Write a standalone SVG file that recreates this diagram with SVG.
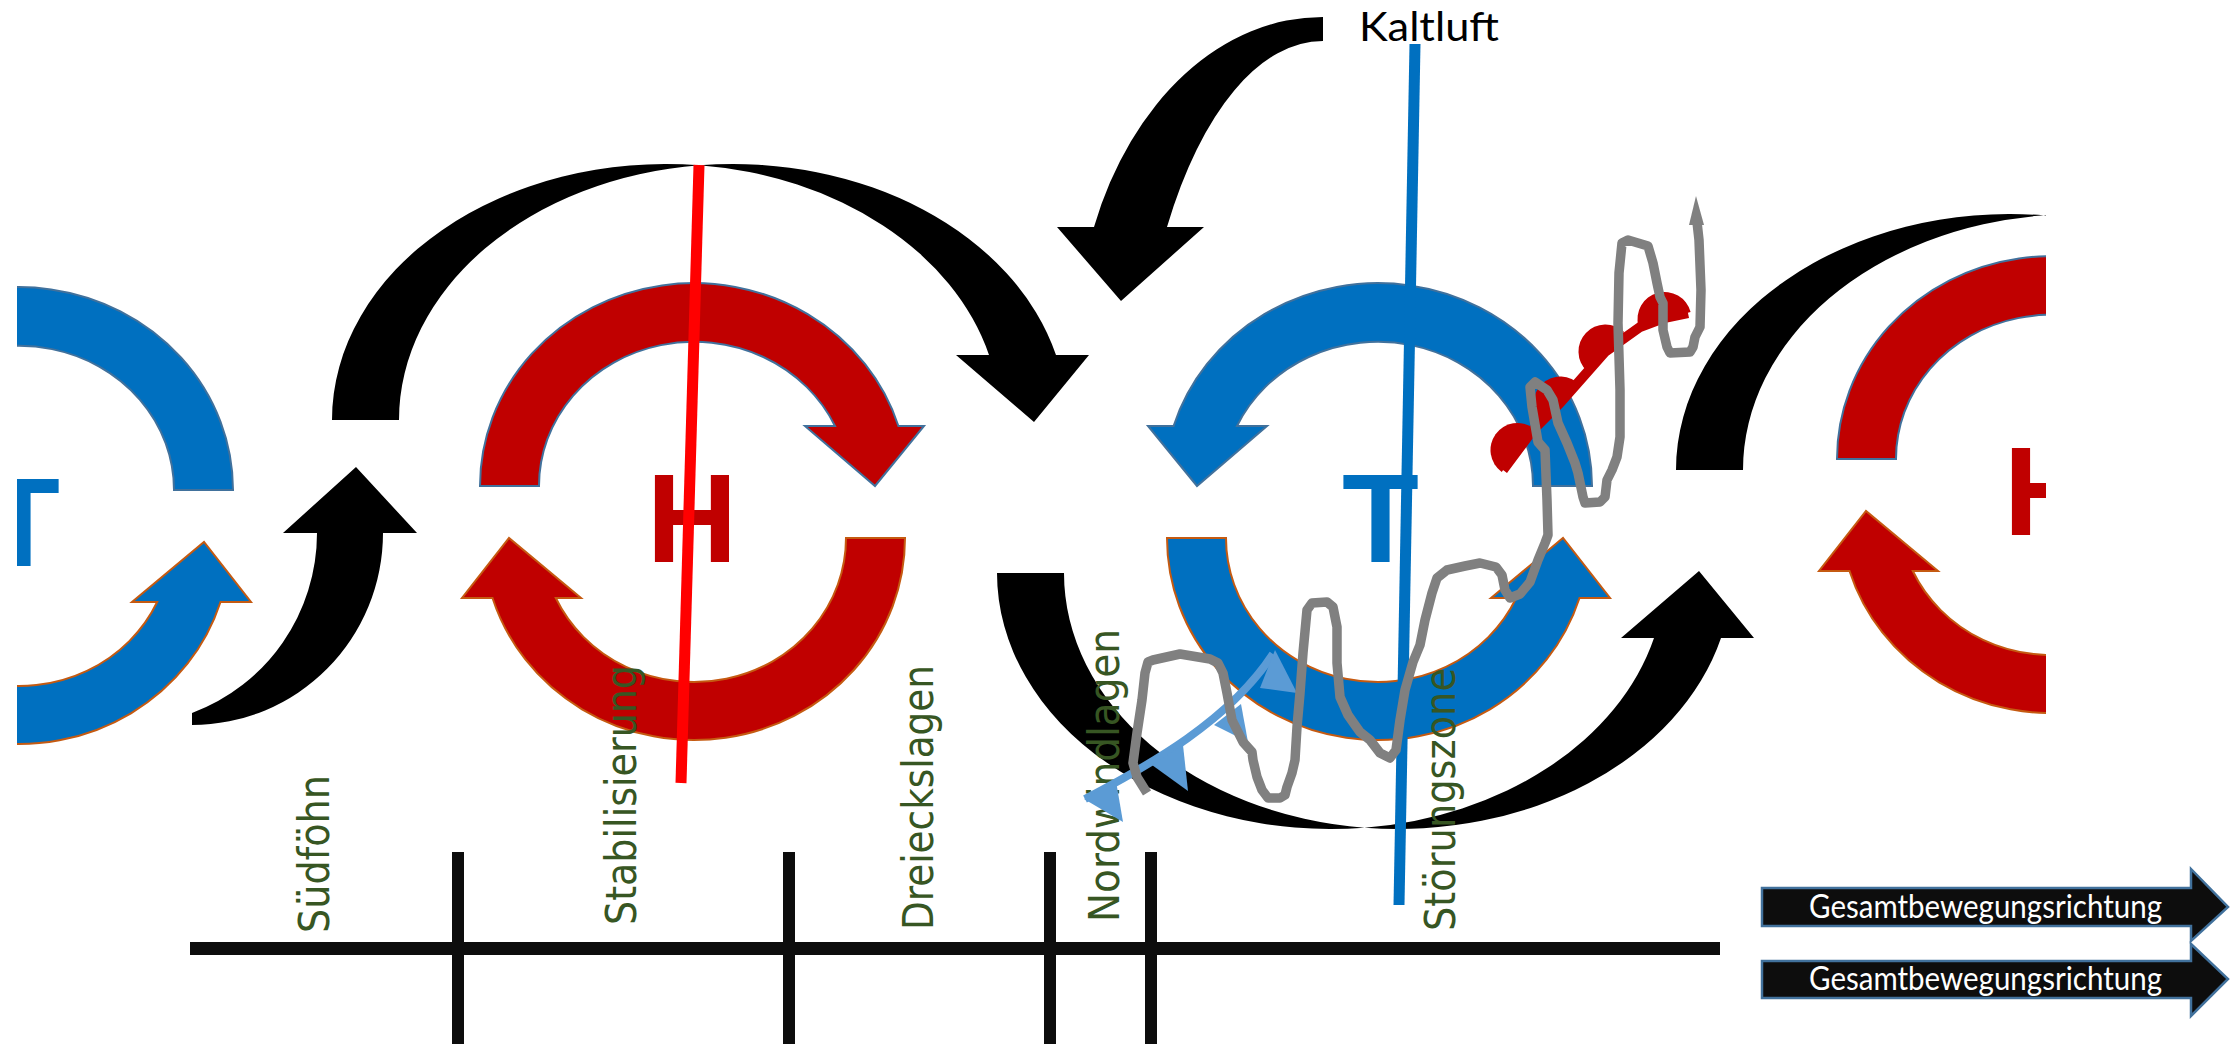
<svg xmlns="http://www.w3.org/2000/svg" xmlns:xlink="http://www.w3.org/1999/xlink" width="2238" height="1044" viewBox="0 0 2238 1044">
  <style>
    .flow { fill: #000000; }
    .ringTopRed { fill: #c00000; stroke: #41719c; stroke-width: 2; }
    .ringBotRed { fill: #c00000; stroke: #c55a11; stroke-width: 2; }
    .ringTopBlue { fill: #0070c0; stroke: #41719c; stroke-width: 2; }
    .ringBotBlue { fill: #0070c0; stroke: #c55a11; stroke-width: 2; }
    .letter { font-family: "Liberation Sans", Arial, sans-serif; font-weight: bold; font-size: 126px; text-anchor: middle; }
    .lbl { font-family: "DejaVu Sans Condensed", "DejaVu Sans", sans-serif; font-size: 43px; fill: #375623; }
    .axis { stroke: #0d0d0d; fill: none; }
    .dir { fill: #0d0d0d; stroke: #41719c; stroke-width: 2.5; }
    .dirText { font-family: Lato, "Liberation Sans", sans-serif; font-size: 32px; fill: #ffffff; }
    .track { fill: none; stroke: #808080; stroke-width: 9.5; stroke-linejoin: round; }
  </style>
  <defs>
    <!-- curved band arrow: union of two offset half-ellipse bands with a down-pointing head -->
    <path id="bigArc" d="M 332 420 A 334 256 0 0 1 699.5 165.3 A 334 256 0 0 1 1056 355 L 1089 355 L 1034 422 L 956 355 L 989 355 A 334 256 0 0 0 699.5 165.3 A 334 256 0 0 0 399 420 Z"/>
    <!-- upper half of a pressure-system ring, head on the right -->
    <path id="ringTop" d="M 480 486 A 214 203 0 0 1 898.4 426 L 924 426 L 875 486 L 805 426 L 835 426 A 155 144 0 0 0 539 486 Z"/>
    <!-- lower half of a pressure-system ring, head on the left -->
    <path id="ringBottom" d="M 905 538 A 211 202 0 0 1 492.5 598 L 462 598 L 509 538 L 581 598 L 555.8 598 A 152 144 0 0 0 846 538 Z"/>
    <clipPath id="clipLeft"><rect x="17" y="0" width="2221" height="1044"/></clipPath>
    <clipPath id="clipRight"><rect x="0" y="0" width="2046" height="1044"/></clipPath>
  </defs>

  <!-- large-scale air flow arrows -->
  <g id="connectors">
    <use id="flow-over-high" href="#bigArc" class="flow"/>
    <use id="flow-under-low" href="#bigArc" class="flow" transform="translate(665,993) scale(1,-1)"/>
    <g clip-path="url(#clipRight)">
      <use id="flow-over-high-east" href="#bigArc" class="flow" transform="translate(1344,50)"/>
    </g>
    <path id="flow-suedfoehn" class="flow" d="M 192 725 A 191 192 0 0 0 383 533 L 417 533 L 356 467 L 283 533 L 317 533 A 191 192 0 0 1 192 713 Z"/>
    <path id="flow-kaltluft" class="flow" d="M 1323 17 A 246 333 0 0 0 1094 227 L 1057 227 L 1121 301 L 1204 227 L 1167 227 A 186 409 0 0 1 1323 41 Z"/>
  </g>

  <!-- low pressure system, west (partly cut off) -->
  <g id="low-west" clip-path="url(#clipLeft)">
    <g transform="translate(713,4) scale(-1,1)">
      <use href="#ringTop" class="ringTopBlue"/>
      <use href="#ringBottom" class="ringBotBlue"/>
    </g>
    <text class="letter" x="21.5" y="566" fill="#0070c0">T</text>
  </g>

  <!-- high pressure system -->
  <g id="high">
    <use href="#ringTop" class="ringTopRed"/>
    <use href="#ringBottom" class="ringBotRed"/>
    <text class="letter" x="692" y="562" fill="#c00000">H</text>
  </g>

  <!-- low pressure system -->
  <g id="low">
    <g transform="translate(2072,0) scale(-1,1)">
      <use href="#ringTop" class="ringTopBlue"/>
      <use href="#ringBottom" class="ringBotBlue"/>
    </g>
    <text class="letter" x="1380.5" y="562" fill="#0070c0">T</text>
  </g>

  <!-- high pressure system, east (partly cut off) -->
  <g id="high-east" clip-path="url(#clipRight)">
    <g transform="translate(1357,-27)">
      <use href="#ringTop" class="ringTopRed"/>
      <use href="#ringBottom" class="ringBotRed"/>
    </g>
    <text class="letter" x="2049" y="535" fill="#c00000">H</text>
  </g>

  <!-- ridge and trough axes -->
  <g id="ridge-axis">
    <line x1="699" y1="165" x2="681" y2="783" stroke="#ff0000" stroke-width="11"/>
  </g>
  <g id="trough-axis">
    <line x1="1415" y1="44" x2="1399" y2="905" stroke="#0070c0" stroke-width="11"/>
  </g>

  <!-- time axis with phase separators -->
  <g id="timeline">
    <line class="axis" x1="190" y1="948.5" x2="1720" y2="948.5" stroke-width="13"/>
    <line class="axis" x1="458" y1="852" x2="458" y2="1044" stroke-width="12"/>
    <line class="axis" x1="789" y1="852" x2="789" y2="1044" stroke-width="12"/>
    <line class="axis" x1="1050" y1="852" x2="1050" y2="1044" stroke-width="12"/>
    <line class="axis" x1="1151" y1="852" x2="1151" y2="1044" stroke-width="12"/>
  </g>

  <!-- phase labels -->
  <g id="phase-labels">
    <text class="lbl" transform="translate(329,933) rotate(-90)" textLength="158" lengthAdjust="spacingAndGlyphs">Südföhn</text>
    <text class="lbl" transform="translate(636,925) rotate(-90)" textLength="260" lengthAdjust="spacingAndGlyphs">Stabilisierung</text>
    <text class="lbl" transform="translate(933,930) rotate(-90)" textLength="265" lengthAdjust="spacingAndGlyphs">Dreieckslagen</text>
    <text class="lbl" transform="translate(1119,922) rotate(-90)" textLength="293" lengthAdjust="spacingAndGlyphs">Nordwindlagen</text>
    <text class="lbl" transform="translate(1455,931) rotate(-90)" textLength="263" lengthAdjust="spacingAndGlyphs">Störungszone</text>
  </g>

  <!-- cold front -->
  <g id="cold-front" fill="#5b9bd5">
    <path d="M 1085 799 C 1150 765, 1230 720, 1273 654" fill="none" stroke="#5b9bd5" stroke-width="8"/>
    <polygon points="1084,799 1116,781 1123,822"/>
    <polygon points="1152,765 1183,745 1188,791"/>
    <polygon points="1214,725 1241,704 1248,742"/>
    <polygon points="1260,688 1275,650 1297,693"/>
  </g>

  <!-- warm front -->
  <g id="warm-front" fill="#c00000">
    <polyline points="1503,470 1532,431 1560,403 1605,352 1640,327 1664,318 1688,313" fill="none" stroke="#c00000" stroke-width="10" stroke-linejoin="round"/>
    <path d="M 1501.7 471.9 A 27 27 0 0 1 1533.3 428.1 Z"/>
    <path d="M 1540.8 422 A 27 27 0 0 1 1580.2 385 Z"/>
    <path d="M 1586.9 371.1 A 27 27 0 0 1 1624.1 331.9 Z"/>
    <path d="M 1638.4 326 A 27 27 0 0 1 1690.6 312 Z"/>
  </g>

  <!-- track of the disturbance -->
  <g id="track">
    <polyline class="track" points="1147,793 1137,777 1133,763 1137,733 1142,700 1145,673 1148,662 1153,660 1180,654 1210,659 1218,663 1223,673 1227,693 1232,720 1237,730 1243,742 1252,752 1253,760 1257,777 1262,790 1268,798 1280,798 1285,795 1287,787 1292,773 1295,760 1297,727 1300,693 1303,653 1307,610 1312,603 1327,602 1333,607 1337,627 1337,663 1340,697 1348,715 1355,725 1360,732 1370,740 1380,753 1390,758 1396,750 1400,720 1405,690 1413,662 1420,645 1425,620 1432,593 1437,578 1447,570 1465,566 1480,563 1496,567 1502,575 1505,590 1510,598 1520,594 1530,582 1538,560 1545,543 1548,535 1547,500 1545,450 1538,442 1532,407 1530,387 1535,382 1547,390 1553,400 1558,423 1567,443 1575,463 1578,473 1583,497 1585,503 1600,502 1605,497 1607,480 1612,470 1617,457 1620,437 1620,390 1618,323 1619,273 1622,243 1628,240 1648,246 1653,263 1657,283 1660,297 1663,303 1663,330 1667,347 1670,353 1690,352 1693,347 1695,337 1700,327 1701,290 1699,240 1697,222"/>
    <polygon points="1689,225 1696,196 1704,225" fill="#808080"/>
  </g>

  <!-- cold air label -->
  <g id="kaltluft-label">
    <text x="1359" y="41" font-family="Lato, 'Liberation Sans', sans-serif" font-size="40" textLength="140" lengthAdjust="spacingAndGlyphs" fill="#000000">Kaltluft</text>
  </g>

  <!-- overall direction of motion -->
  <g id="direction-1">
    <path class="dir" d="M 1762 888 L 2191 888 L 2191 869 L 2228 907 L 2191 941 L 2191 926 L 1762 926 Z"/>
    <text class="dirText" x="1809" y="918" textLength="353" lengthAdjust="spacingAndGlyphs">Gesamtbewegungsrichtung</text>
  </g>
  <g id="direction-2">
    <path class="dir" d="M 1762 961 L 2191 961 L 2191 944 L 2228 979 L 2191 1016 L 2191 998 L 1762 998 Z"/>
    <text class="dirText" x="1809" y="990" textLength="353" lengthAdjust="spacingAndGlyphs">Gesamtbewegungsrichtung</text>
  </g>
</svg>
